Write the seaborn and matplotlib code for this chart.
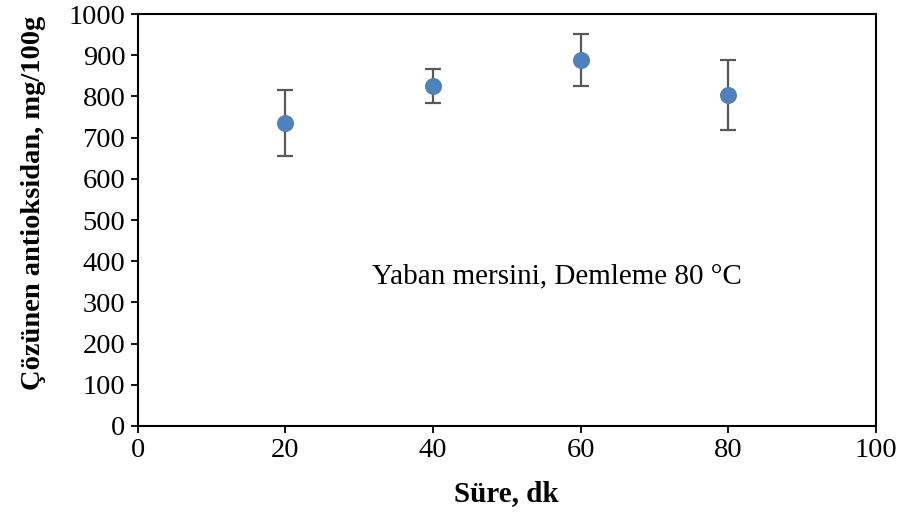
import matplotlib
matplotlib.use("Agg")
import matplotlib.pyplot as plt
import seaborn as sns
import pandas as pd

# Data
sure = [20, 40, 60, 80]
antioksidan = [736, 825, 888, 803]
hata = [80, 41, 63, 85]
x_ticks = [0, 20, 40, 60, 80, 100]
y_ticks = [0, 100, 200, 300, 400, 500, 600, 700, 800, 900, 1000]

sns.set_theme(style="white")
plt.rcParams['font.family'] = ['Liberation Serif', 'DejaVu Serif']
plt.rcParams['text.color'] = 'black'
plt.rcParams['axes.labelcolor'] = 'black'
plt.rcParams['xtick.color'] = 'black'
plt.rcParams['ytick.color'] = 'black'

df = pd.DataFrame({"Süre": sure, "Antioksidan": antioksidan, "Hata": hata})

fig = plt.figure(figsize=(9.01, 5.22), dpi=100)
ax = fig.add_axes([0.153, 0.184, 0.819, 0.789])

ax.errorbar(df["Süre"], df["Antioksidan"], yerr=df["Hata"], fmt='none',
            ecolor='#595959', elinewidth=1.6, capsize=6, capthick=1.6, zorder=2)
sns.scatterplot(data=df, x="Süre", y="Antioksidan", ax=ax, color='#4F81BD',
                s=150, edgecolor='#4F81BD', linewidth=0, zorder=3, legend=False)

ax.set_xlim(0, 100)
ax.set_ylim(0, 1000)
ax.set_xticks(x_ticks)
ax.set_yticks(y_ticks)
ax.tick_params(axis='both', which='major', labelsize=20.5, direction='out',
               length=5, width=1.3, color='black', labelcolor='black',
               bottom=True, left=True, top=False, right=False, pad=4)
for s in ax.spines.values():
    s.set_visible(True)
    s.set_color('black')
    s.set_linewidth(1.5)

ax.set_xlabel("Süre, dk", fontsize=21, fontweight='bold', labelpad=12, color='black')
ax.set_ylabel("Çözünen antioksidan, mg/100g", fontsize=20.5, fontweight='bold',
              color='black')
ax.yaxis.set_label_coords(-0.124, 0.541)

ax.text(56.8, 362, "Yaban mersini, Demleme 80 °C", fontsize=21,
        ha='center', va='center', color='black')

fig.savefig("out.png", dpi=100)
